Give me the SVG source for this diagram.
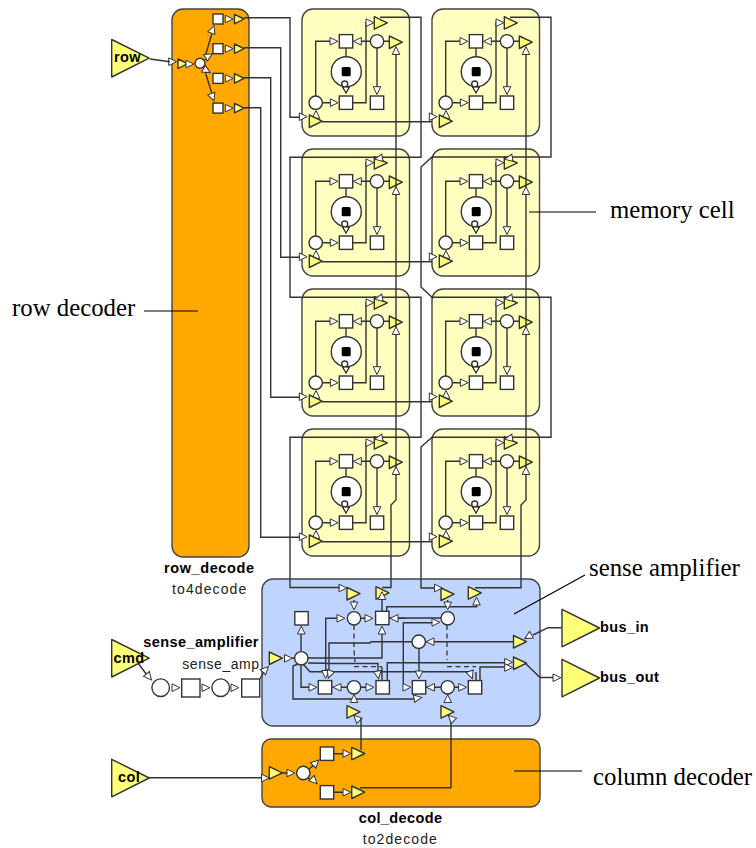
<svg xmlns="http://www.w3.org/2000/svg" width="756" height="848" viewBox="0 0 756 848">
<style>
.w{fill:none;stroke:#333;stroke-width:1.4}
.d{fill:none;stroke:#333;stroke-width:1.3;stroke-dasharray:5 3.5}
.sq,.c{fill:#fff;stroke:#333;stroke-width:1.4}
.t{fill:#ffff78;stroke:#333;stroke-width:1.4;stroke-linejoin:round}
.o{fill:#ffa800;stroke:#444;stroke-width:1.4}
.y{fill:#ffffbf;stroke:#444;stroke-width:1.4}
.b{fill:#bfd4ff;stroke:#444;stroke-width:1.4}
.n{font:bold 14.5px "Liberation Sans",Arial,sans-serif;fill:#000;letter-spacing:.4px}
.s{font:14px "Liberation Sans",Arial,sans-serif;fill:#222;letter-spacing:1.1px}
.l{font:24.8px "Liberation Serif","Times New Roman",serif;fill:#000}
.k{fill:none;stroke:#000;stroke-width:1.2}
</style>
<defs>
<polygon id="a" points="-4,-3.8 3.8,0 -4,3.8" fill="#fff" stroke="#333" stroke-width="1"/>
<polygon id="T" class="t" points="0,0 13,6.2 0,12.5"/>
<polygon id="TS" class="t" points="0,0 9.5,4.7 0,9.5"/>
<polygon id="B" class="t" points="0,0 37.5,18.7 0,37.5"/>
<rect id="S" class="sq" x="-6.7" y="-6.7" width="13.4" height="13.4"/>
<rect id="SS" class="sq" x="-5" y="-5" width="10" height="10"/>
<circle id="C" class="c" r="6.7"/>
<g id="inner">
<path class="w" d="M315.7,102.7V41.3H331M370,41.3H361M346,48V57M322,102.7H331M353,102.7H366V22.7H367M384,41.3H389M377,48V88"/>
<use href="#a" x="334" y="41.3"/>
<use href="#a" transform="translate(357.3,41.3) rotate(180)"/>
<use href="#a" x="334.3" y="102.7"/>
<use href="#a" x="370" y="22.7"/>
<use href="#a" transform="translate(377,90.7) rotate(90)"/>
<use href="#a" transform="translate(316,114.3) rotate(-90)"/>
<use href="#a" x="303.3" y="116.7"/>
<use href="#T" x="374.3" y="16.7"/>
<use href="#T" x="389.3" y="36"/>
<use href="#T" x="309.3" y="115"/>
<use href="#S" x="346" y="41.3"/>
<use href="#C" x="377" y="41.3"/>
<circle class="c" cx="346.3" cy="71.7" r="15"/>
<rect x="341.7" y="67" width="9" height="9.3" rx="1.5" fill="#000"/>
<circle class="c" cx="344.7" cy="84" r="3"/>
<polygon points="342,87 350,87 346,94" fill="#000"/>
<polygon points="343.5,87.5 348.5,87.5 346,92" fill="#fff"/>
<use href="#S" x="346" y="102.7"/>
<use href="#C" x="315.7" y="102.7"/>
<use href="#S" x="377" y="102.7"/>
</g>
<g id="cellY"><rect class="y" x="302" y="9" width="107.5" height="127" rx="11"/><use href="#inner"/></g>
</defs>
<rect width="756" height="848" fill="#fff"/>

<g id="row_decode">
<rect class="o" x="172" y="9" width="77" height="548" rx="11"/>
<path class="w" d="M205,57L212,33M205,60L208,57M205,67L208,69M204,68L212,94"/>
<use href="#a" x="172.7" y="61.7"/>
<use href="#TS" x="178" y="59"/>
<use href="#a" x="190" y="64"/>
<circle class="c" cx="200" cy="63.3" r="5"/>
<use href="#a" transform="translate(212.7,29.3) rotate(-70)"/>
<use href="#a" transform="translate(209,55.7) rotate(-30)"/>
<use href="#a" transform="translate(207,70.7) rotate(30)"/>
<use href="#a" transform="translate(212.7,97.3) rotate(70)"/>
<g id="rd1"><use href="#SS" x="218" y="19"/><use href="#a" x="229.3" y="19"/><use href="#TS" x="234.5" y="14.3"/></g>
<use href="#rd1" y="29.7"/>
<use href="#rd1" y="59.4"/>
<use href="#rd1" y="89.1"/>
</g>

<g id="cell_0_0"><use href="#cellY"/></g>
<g id="cell_0_1"><use href="#cellY" x="130"/></g>
<g id="cell_1_0"><use href="#cellY" y="140"/></g>
<g id="cell_1_1"><use href="#cellY" x="130" y="140"/></g>
<g id="cell_2_0"><use href="#cellY" y="280"/></g>
<g id="cell_2_1"><use href="#cellY" x="130" y="280"/></g>
<g id="cell_3_0"><use href="#cellY" y="420"/></g>
<g id="cell_3_1"><use href="#cellY" x="130" y="420"/></g>

<g id="sense_amplifier">
<rect class="b" x="262" y="579" width="278" height="147" rx="11"/>
<path class="w" d="M354,600V603M382,598V611M447.7,600V603M301,651V633M308,658H382V633M308,663L343,663.5H378V671M303,664L310,671.7H470V671M298,664L293,666V699H414M301,665V687.3H309.5M329,670V643H370L371,641.7H412M325.7,670V618.3H337.5M347,618.3H365M405,618.3H398M386.7,611V606.7H476.7V604M389,618H441M403.3,684V622.7H432M419,648V672M332,687.3H333.5M341,687.3H347M361,687.3H367M426,687.3H427M435,687.3H441M454,687.3H459M354,694V695M447.7,694V695M382,667V680.5M387.3,680.5V662.7H505M476,672V681M480,680.5V667H505M424,641.7H513.5M294,658H292"/>
<path class="d" d="M354,625V650L355,662M354,666.7H382M447,625V660M447,666.7H476"/>
<use href="#T" x="347" y="587.5"/>
<use href="#T" x="376" y="586.7"/>
<use href="#T" x="441" y="588"/>
<use href="#T" x="468.3" y="586.7"/>
<use href="#T" x="269.3" y="652"/>
<use href="#T" x="513.5" y="635.5"/>
<use href="#T" x="513.5" y="657"/>
<use href="#T" x="347" y="705.7"/>
<use href="#T" x="441" y="705.7"/>
<use href="#S" x="301.5" y="618.3"/>
<use href="#S" x="382.3" y="618"/>
<use href="#S" x="325" y="687.3"/>
<use href="#S" x="382.7" y="687.3"/>
<use href="#S" x="419" y="687.3"/>
<use href="#S" x="475" y="687.3"/>
<use href="#C" x="354" y="618.3"/>
<use href="#C" x="447.7" y="618.3"/>
<use href="#C" x="301.3" y="658.3"/>
<use href="#C" x="418.7" y="641.7"/>
<use href="#C" x="354" y="687.3"/>
<use href="#C" x="447.7" y="687.3"/>
<use href="#a" x="343" y="588"/>
<use href="#a" x="438.5" y="588"/>
<use href="#a" transform="translate(382,595.5) rotate(-90)"/>
<use href="#a" transform="translate(476.5,601) rotate(-90)"/>
<use href="#a" transform="translate(354,606) rotate(90)"/>
<use href="#a" transform="translate(447.7,606) rotate(90)"/>
<use href="#a" x="341" y="618.3"/>
<use href="#a" x="369" y="618.3"/>
<use href="#a" transform="translate(394,618.3) rotate(180)"/>
<use href="#a" x="436" y="622.3"/>
<use href="#a" transform="translate(430,641.7) rotate(180)"/>
<use href="#a" transform="translate(301.3,630) rotate(-90)"/>
<use href="#a" transform="translate(382,630) rotate(-90)"/>
<use href="#a" x="288.5" y="658.3"/>
<use href="#a" x="508.7" y="662.3"/>
<use href="#a" x="508.7" y="667.5"/>
<use href="#a" transform="translate(325.5,674.5) rotate(90)"/>
<use href="#a" transform="translate(329.5,674.5) rotate(110)"/>
<use href="#a" transform="translate(378,675) rotate(80)"/>
<use href="#a" transform="translate(419,675) rotate(90)"/>
<use href="#a" transform="translate(471,675) rotate(70)"/>
<use href="#a" x="313" y="687.3"/>
<use href="#a" transform="translate(337,687.3) rotate(180)"/>
<use href="#a" x="370" y="687.3"/>
<use href="#a" x="407" y="687.3"/>
<use href="#a" transform="translate(430.5,687.3) rotate(180)"/>
<use href="#a" x="462.7" y="687.3"/>
<use href="#a" transform="translate(354,698.5) rotate(-90)"/>
<use href="#a" transform="translate(447.7,698.5) rotate(-90)"/>
<use href="#a" transform="translate(418,698) rotate(-10)"/>
<use href="#a" transform="translate(356.5,718) rotate(-135)"/>
<use href="#a" transform="translate(451,718) rotate(-135)"/>
<use href="#a" transform="translate(528,636.7) rotate(150)"/>
<use href="#a" transform="translate(265.7,669.3) rotate(-45)"/>
</g>

<g id="col_decode">
<rect class="o" x="262" y="739" width="278" height="68" rx="9"/>
<path class="w" d="M282,773H287M309,769L314,765M308,778L312,781M333,753.7H344M333,792.3H344"/>
<use href="#a" x="265.5" y="778"/>
<use href="#T" x="269.3" y="766.7"/>
<use href="#a" x="291" y="773"/>
<use href="#C" x="303.3" y="773"/>
<use href="#a" transform="translate(316,762.7) rotate(-45)"/>
<use href="#a" transform="translate(314.3,781) rotate(45)"/>
<use href="#S" x="327" y="753.7"/>
<use href="#S" x="327" y="792.3"/>
<use href="#a" x="347" y="753.5"/>
<use href="#a" x="347" y="792.3"/>
<use href="#T" x="351.7" y="747.3"/>
<use href="#T" x="351.7" y="786"/>
</g>

<g id="connectors">
<path class="w" d="M150,59L170,61.7"/>
<path class="w" d="M244,17.7H290V117.3H300M244,47.7H280.7V257.3H300M244,77.7H270.7V397.3H300M244,107.7H260.7V537.3H300"/>
<path class="w" d="M322,121.7H432M322,261.7H432M322,401.7H432M322,541.7H432"/>
<path class="w" d="M380,17.3H421V157.3H290V297.3H421V437.3H290V587.5H340M382,587.5H391V505L396,500V54"/>
<path class="w" d="M510,17.3H551V157H432L421,167V287L432,297.3H551V437.3H432L421,447V588H435M475,587.7H521V505L526,500V54"/>
<path class="w" d="M149,777.7H262M361,718V750M451,722V787.7H360"/>
<path class="w" d="M138,663L147,675M259.7,679L264,672"/>
<path class="w" d="M561.7,627.7H548L533,635M525,663L540,677.5H553"/>
<g id="bitline_arrows">
<use href="#a" transform="translate(378.5,158.5) rotate(170)"/>
<use href="#a" transform="translate(508.5,158.5) rotate(170)"/>
<use href="#a" transform="translate(378.5,298.5) rotate(170)"/>
<use href="#a" transform="translate(508.5,298.5) rotate(170)"/>
<use href="#a" transform="translate(378.5,438.5) rotate(170)"/>
<use href="#a" transform="translate(508.5,438.5) rotate(170)"/>
<use href="#a" transform="translate(396,50.5) rotate(-90)"/>
<use href="#a" transform="translate(526,50.5) rotate(-90)"/>
<use href="#a" transform="translate(396,190.5) rotate(-90)"/>
<use href="#a" transform="translate(526,190.5) rotate(-90)"/>
<use href="#a" transform="translate(396,330.5) rotate(-90)"/>
<use href="#a" transform="translate(526,330.5) rotate(-90)"/>
<use href="#a" transform="translate(396,470.5) rotate(-90)"/>
<use href="#a" transform="translate(526,470.5) rotate(-90)"/>
</g>
<use href="#a" transform="translate(149,677) rotate(50)"/>
<use href="#a" x="176" y="687.7"/>
<use href="#a" x="206" y="687.7"/>
<use href="#a" x="235" y="687.7"/>
<use href="#a" x="557" y="677.7"/>
</g>

<g id="row"><use href="#B" x="111.7" y="39.5"/><text class="n" x="114" y="62">row</text></g>
<g id="cmd"><use href="#B" x="111.7" y="639.5"/><text class="n" x="113.5" y="662.7">cmd</text></g>
<g id="col"><use href="#B" x="111.7" y="759.3"/><text class="n" x="118" y="782">col</text></g>
<g id="bus_in"><use href="#B" x="562" y="609.3"/><text class="n" x="600" y="632">bus_in</text></g>
<g id="bus_out"><use href="#B" x="562" y="659.3"/><text class="n" x="600" y="682">bus_out</text></g>
<g id="sense_chain">
<circle class="c" cx="160.7" cy="687.7" r="8.8"/>
<rect class="sq" x="181.7" y="679" width="18.3" height="18"/>
<circle class="c" cx="220.7" cy="687.7" r="8.8"/>
<rect class="sq" x="241.7" y="679" width="18" height="18"/>
</g>

<text class="n" x="164" y="573" style="letter-spacing:.6px">row_decode</text>
<text class="s" x="172" y="594">to4decode</text>
<text class="n" x="143.3" y="646.7">sense_amplifier</text>
<text class="s" x="182.3" y="669.3" style="letter-spacing:.55px">sense_amp</text>
<text class="n" x="358.7" y="823">col_decode</text>
<text class="s" x="362.7" y="844">to2decode</text>

<g id="annotations">
<path class="k" d="M144,311H198M529,212H596M585,575L514,614M514,771H582"/>
<text class="l" x="12" y="316">row decoder</text>
<text class="l" x="610" y="218">memory cell</text>
<text class="l" x="589" y="576">sense amplifier</text>
<text class="l" x="593" y="785">column decoder</text>
</g>
</svg>
